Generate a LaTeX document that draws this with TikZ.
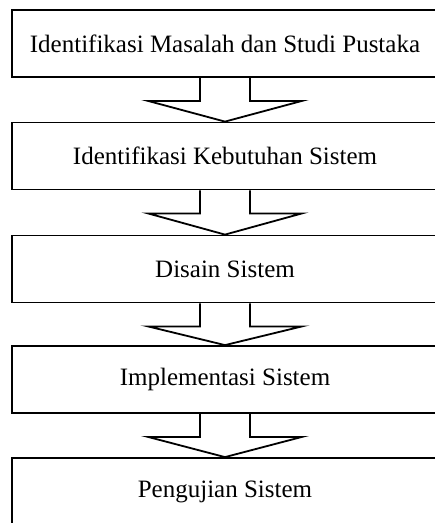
\documentclass[tikz,border=0pt]{standalone}
\usepackage{fontspec}
\setmainfont{Liberation Serif}
\usetikzlibrary{calc}
\tikzset{
  stepbox/.style={draw=black, line width=1.8pt, rectangle, minimum width=426pt, minimum height=67pt, inner sep=0pt, font=\fontsize{25}{29}\selectfont, anchor=center},
  blockarrow/.style={draw=black, line width=1.8pt, line join=miter}
}
\begin{document}
\begin{tikzpicture}[x=1pt,y=-1pt]
\useasboundingbox (0,0) rectangle (435,523);
\clip (0,0) rectangle (435,523);
\fill[white] (0,0) rectangle (435,523);
\node[stepbox] (b1) at (225,43.5) {Identifikasi Masalah dan Studi Pustaka};
\node[stepbox] (b2) at (225,156) {Identifikasi Kebutuhan Sistem};
\node[stepbox] (b3) at (225,269) {Disain Sistem};
\node[stepbox] (b4) at (225,379.5) {Implementasi Sistem};
\node[stepbox] (b5) at (225,491.5) {Pengujian Sistem};
\foreach \a/\b in {b1/b2,b2/b3,b3/b4,b4/b5}{
  \draw[blockarrow] ($(\a.south)+(-25,0)$) -- ++(0,23) -- ++(-52,0) -- (\b.north)
     -- ($(\a.south)+(77,23)$) -- ++(-52,0) -- ($(\a.south)+(25,0)$);
}
\end{tikzpicture}
\end{document}
